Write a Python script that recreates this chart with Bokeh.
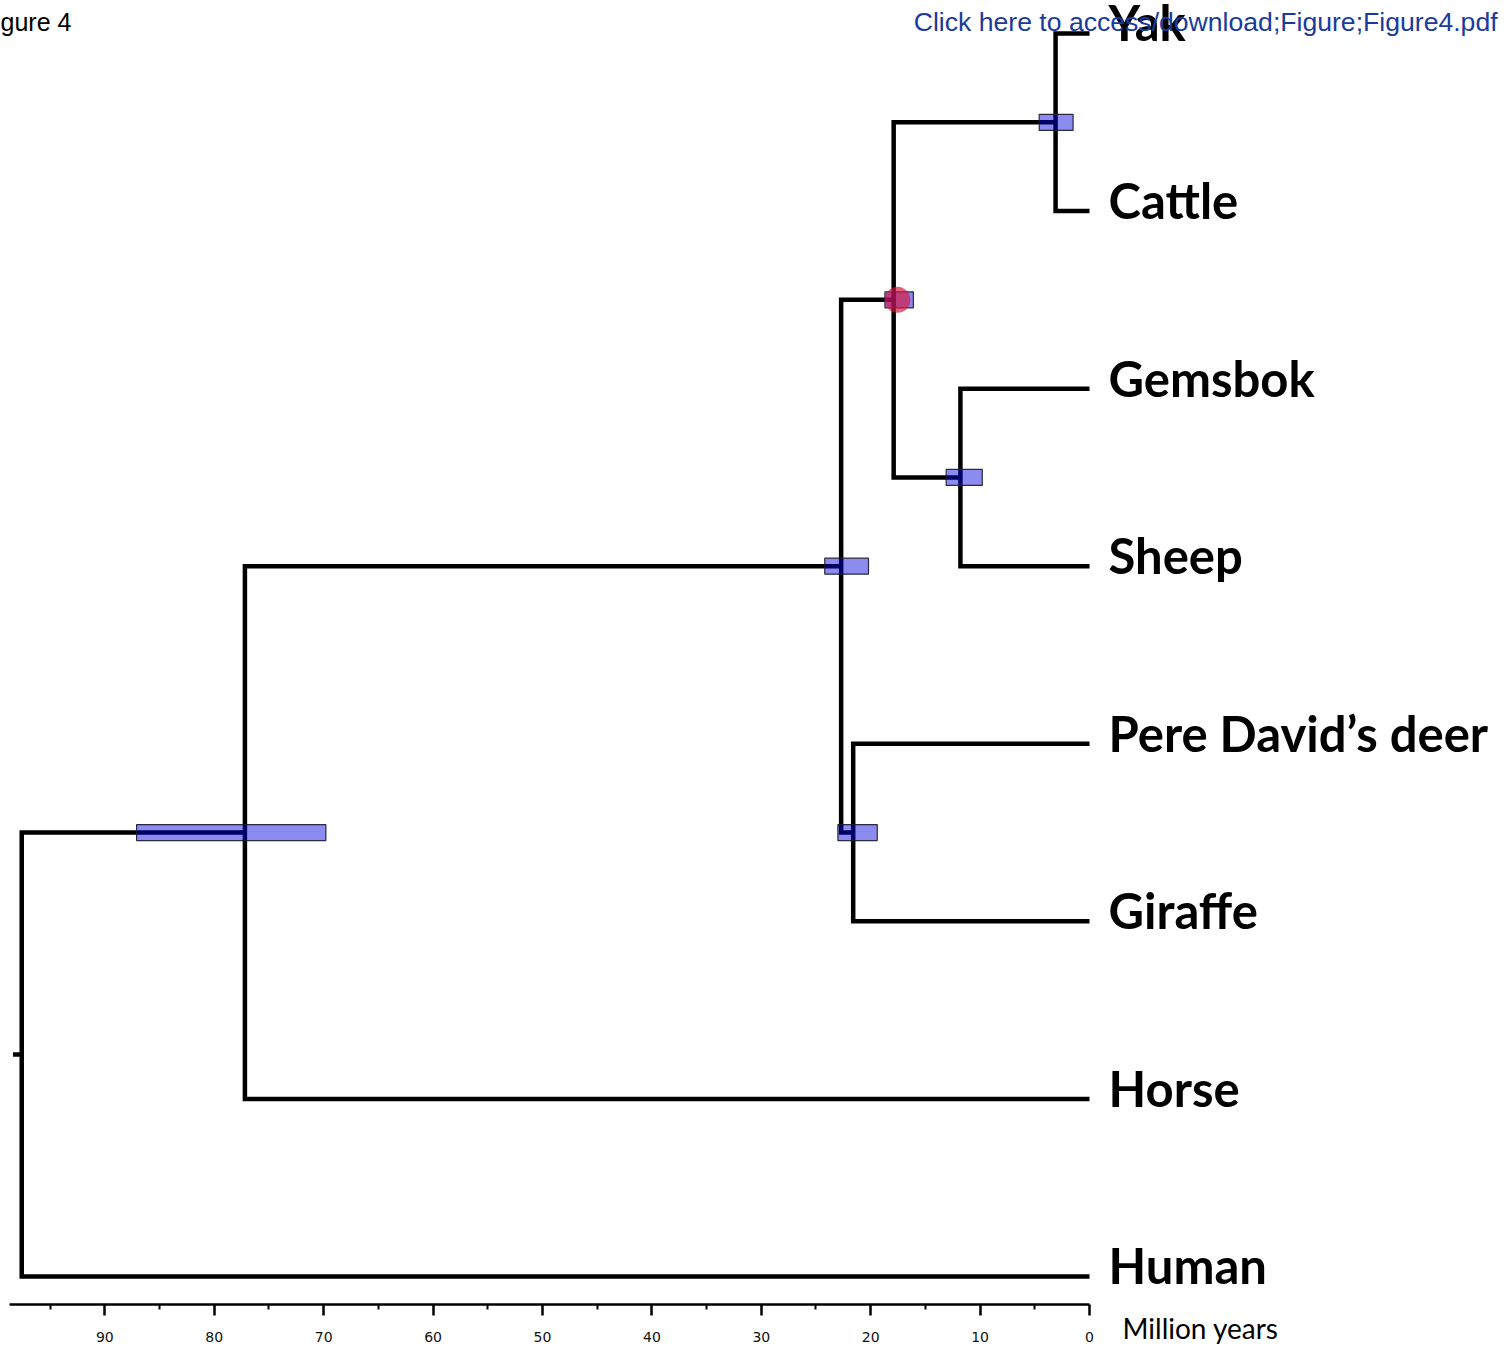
from bokeh.plotting import figure
from bokeh.models import Range1d, LinearAxis, FixedTicker, ColumnDataSource
from bokeh.core.properties import value
from bokeh.embed import file_html
from bokeh.resources import INLINE

# ---------------- data ----------------
tip_names = ["Yak", "Cattle", "Gemsbok", "Sheep", "Pere David\u2019s deer",
             "Giraffe", "Horse", "Human"]
node_names = ["Yak-Cattle", "Gemsbok-Sheep", "Bovidae", "Deer-Giraffe",
              "Pecora", "Ruminant-Horse", "Root"]
node_child_a = ["Yak", "Gemsbok", "Yak-Cattle", "Pere David\u2019s deer",
                "Bovidae", "Pecora", "Ruminant-Horse"]
node_child_b = ["Cattle", "Sheep", "Gemsbok-Sheep", "Giraffe",
                "Deer-Giraffe", "Horse", "Human"]
node_age = [3.1, 11.8, 17.9, 21.6, 22.7, 77.2, 97.6]          # million years
ci_nodes = ["Yak-Cattle", "Gemsbok-Sheep", "Bovidae", "Deer-Giraffe",
            "Pecora", "Ruminant-Horse"]
ci_old = [4.6, 13.1, 18.7, 23.0, 24.2, 87.1]
ci_young = [1.5, 9.8, 16.1, 19.4, 20.2, 69.8]
calib_node = ["Bovidae"]
calib_age = [17.55]
root_stem_age = 98.4
axis_major = [0, 10, 20, 30, 40, 50, 60, 70, 80, 90]
axis_minor = [5, 15, 25, 35, 45, 55, 65, 75, 85, 95]
axis_extent = (0, 98.7)
axis_title = "Million years"
header_left = "gure 4"
header_right = "Click here to access/download;Figure;Figure4.pdf"

# ---------------- tree geometry ----------------
ypos = {n: i for i, n in enumerate(tip_names)}
xpos = {n: 0.0 for n in tip_names}
for n, a, b, age in zip(node_names, node_child_a, node_child_b, node_age):
    ypos[n] = (ypos[a] + ypos[b]) / 2.0
    xpos[n] = age

xs, ys = [], []
for n, a, b in zip(node_names, node_child_a, node_child_b):
    xs.append([xpos[a], xpos[n], xpos[n], xpos[b]])
    ys.append([ypos[a], ypos[a], ypos[b], ypos[b]])
xs.append([root_stem_age, xpos["Root"]])
ys.append([ypos["Root"], ypos["Root"]])

AXIS_Y = 7.158   # vertical position of the time axis (in row units)

p = figure(frame_width=1502, frame_height=1347,
           x_range=Range1d(99.54, -37.75), y_range=Range1d(7.400, -0.1858),
           x_axis_type=None, y_axis_type=None,
           output_backend="svg", toolbar_location=None,
           min_border_left=0, min_border_right=0, min_border_top=0,
           min_border_bottom=0)
p.outline_line_color = None
p.background_fill_color = "white"
p.border_fill_color = "white"

p.multi_line(xs=xs, ys=ys, line_color="black", line_width=4.5,
             line_join="miter", line_cap="butt")

ci_src = ColumnDataSource(dict(
    x=[(o + y) / 2 for o, y in zip(ci_old, ci_young)],
    w=[o - y for o, y in zip(ci_old, ci_young)],
    y=[ypos[n] for n in ci_nodes]))
p.rect(x="x", y="y", width="w", height=16, height_units="screen", source=ci_src,
       fill_color="#0000de", fill_alpha=0.455, line_color="#1a1a2a",
       line_width=1.2, line_alpha=0.9)

p.scatter(x=calib_age, y=[ypos[n] for n in calib_node], size=26,
          fill_color="#d6173f", fill_alpha=0.68, line_color=None)

p.text(x=[-1.74] * len(tip_names), y=[ypos[n] for n in tip_names], text=tip_names,
       text_font=value("Lato"), text_font_style="bold", text_font_size="49px",
       text_baseline="middle", text_align="left", text_color="black", y_offset=-11)

ax = LinearAxis(ticker=FixedTicker(ticks=axis_major, minor_ticks=axis_minor),
                bounds=axis_extent, fixed_location=AXIS_Y)
ax.axis_line_width = 2.5
ax.major_tick_line_width = 2.5
ax.minor_tick_line_width = 2
ax.major_tick_in = 0
ax.major_tick_out = 11
ax.minor_tick_in = 0
ax.minor_tick_out = 5
ax.major_label_text_font = "DejaVu Sans"
ax.major_label_text_font_size = "14px"
ax.major_label_text_color = "#111111"
ax.major_label_standoff = 16
p.add_layout(ax, "below")

p.text(x=[-3.02], y=[7.29], text=[axis_title], text_font=value("Lato"),
       text_font_size="28px", text_baseline="middle", text_align="left",
       text_color="black")
p.text(x=[99.54], y=[-0.062], text=[header_left], text_font=value("Liberation Sans"),
       text_font_size="25px", text_baseline="middle", text_align="left",
       text_color="black")
p.text(x=[-37.3], y=[-0.062], text=[header_right], text_font=value("Liberation Sans"),
       text_font_size="26.6px", text_baseline="middle", text_align="right",
       text_color="#1a3b9c")

open("out.html", "w").write(file_html(p, INLINE))
